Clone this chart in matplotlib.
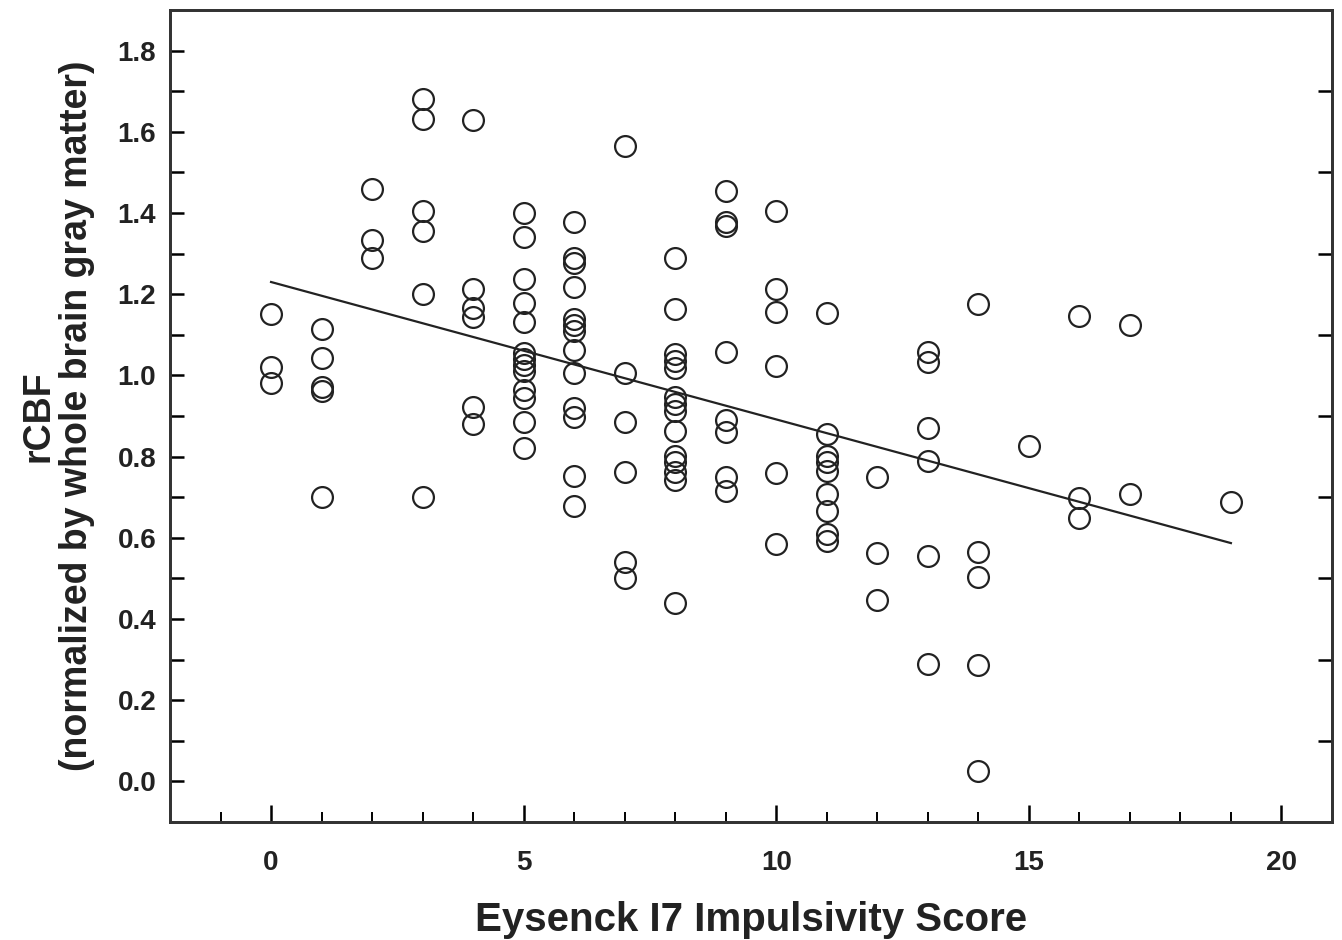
import numpy as np
from matplotlib import pyplot as plt

# Eysenck I7 impulsivity score and rCBF
score_0 = [1.150, 1.021, 0.981]
score_1 = [1.115, 1.044, 0.971, 0.961, 0.700]
score_2 = [1.459, 1.333, 1.288]
score_3 = [1.681, 1.632, 1.406, 1.356, 1.200, 0.700]
score_4 = [1.628, 1.212, 1.165, 1.144, 0.922, 0.881]
score_5 = [1.400, 1.341, 1.238, 1.178, 1.132, 1.055, 1.040, 1.025, 1.010, 0.965, 0.945, 0.885, 0.820]
score_6 = [1.378, 1.289, 1.276, 1.218, 1.140, 1.125, 1.110, 1.062, 1.005, 0.920, 0.897, 0.753, 0.678]
score_7 = [1.565, 1.007, 0.886, 0.763, 0.541, 0.501]
score_8 = [1.288, 1.163, 1.052, 1.036, 1.018, 0.946, 0.930, 0.912, 0.862, 0.802, 0.786, 0.762, 0.742, 0.440]
score_9 = [1.453, 1.378, 1.368, 1.057, 0.889, 0.860, 0.749, 0.716]
score_10 = [1.405, 1.212, 1.157, 1.024, 0.760, 0.585]
score_11 = [1.154, 0.856, 0.802, 0.786, 0.765, 0.709, 0.665, 0.609, 0.593]
score_12 = [0.749, 0.563, 0.447]
score_13 = [1.058, 1.034, 0.870, 0.789, 0.554, 0.290]
score_14 = [1.176, 0.566, 0.504, 0.286, 0.025]
score_15 = [0.826]
score_16 = [1.147, 0.699, 0.650]
score_17 = [1.125, 0.707]
score_19 = [0.687]

columns = {0: score_0, 1: score_1, 2: score_2, 3: score_3, 4: score_4, 5: score_5,
           6: score_6, 7: score_7, 8: score_8, 9: score_9, 10: score_10, 11: score_11,
           12: score_12, 13: score_13, 14: score_14, 15: score_15, 16: score_16,
           17: score_17, 19: score_19}

# regression line end points
fit_x = [0, 19]
fit_y = [1.230, 0.587]

x = []
y = []
for s, vals in columns.items():
    x += [s] * len(vals)
    y += vals

fig = plt.figure(figsize=(13.42, 9.40), dpi=100)
ax = fig.add_axes([0.1267, 0.1255, 0.8658, 0.8639])

ax.plot(x, y, linestyle='none', marker='o', markersize=15, markerfacecolor='none',
        markeredgecolor='#222222', markeredgewidth=1.6)
ax.plot(fit_x, fit_y, color='#222222', linewidth=1.6)

ax.set_xlim(-2, 21)
ax.set_ylim(-0.1, 1.9)

ax.set_xticks(np.arange(0, 21, 5))
ax.set_xticks(np.arange(-1, 21, 1), minor=True)
ax.set_yticks(np.arange(0, 1.81, 0.2))
ax.set_yticks(np.arange(0.1, 1.81, 0.2), minor=True)
ax.set_yticklabels([f'{v:.1f}' for v in np.arange(0, 1.81, 0.2)])

ax.tick_params(axis='x', which='major', direction='in', length=12, width=1.8, pad=20)
ax.tick_params(axis='x', which='minor', direction='in', length=7, width=1.4)
ax.tick_params(axis='y', which='both', direction='in', length=10, width=1.8, pad=10)
for lab in ax.get_xticklabels() + ax.get_yticklabels():
    lab.set_fontfamily('Liberation Sans')
    lab.set_fontweight('bold')
    lab.set_fontsize(20)
    lab.set_color('#222222')

ax2 = ax.twinx()
ax2.set_ylim(-0.1, 1.9)
ax2.set_yticks(np.arange(0.1, 1.71, 0.2))
ax2.tick_params(axis='y', direction='in', length=10, width=1.8, labelright=False)

for a in (ax, ax2):
    for sp in a.spines.values():
        sp.set_linewidth(2)
        sp.set_color('#333333')

label_font = dict(family=['Liberation Sans Narrow', 'Liberation Sans'], weight='bold', color='#222222')
ax.set_xlabel('Eysenck I7 Impulsivity Score', fontsize=29, labelpad=18, **label_font)
ax.set_ylabel('rCBF\n(normalized by whole brain gray matter)', fontsize=27, labelpad=16,
              linespacing=1.1, **label_font)

plt.savefig('out.png', dpi=100)
